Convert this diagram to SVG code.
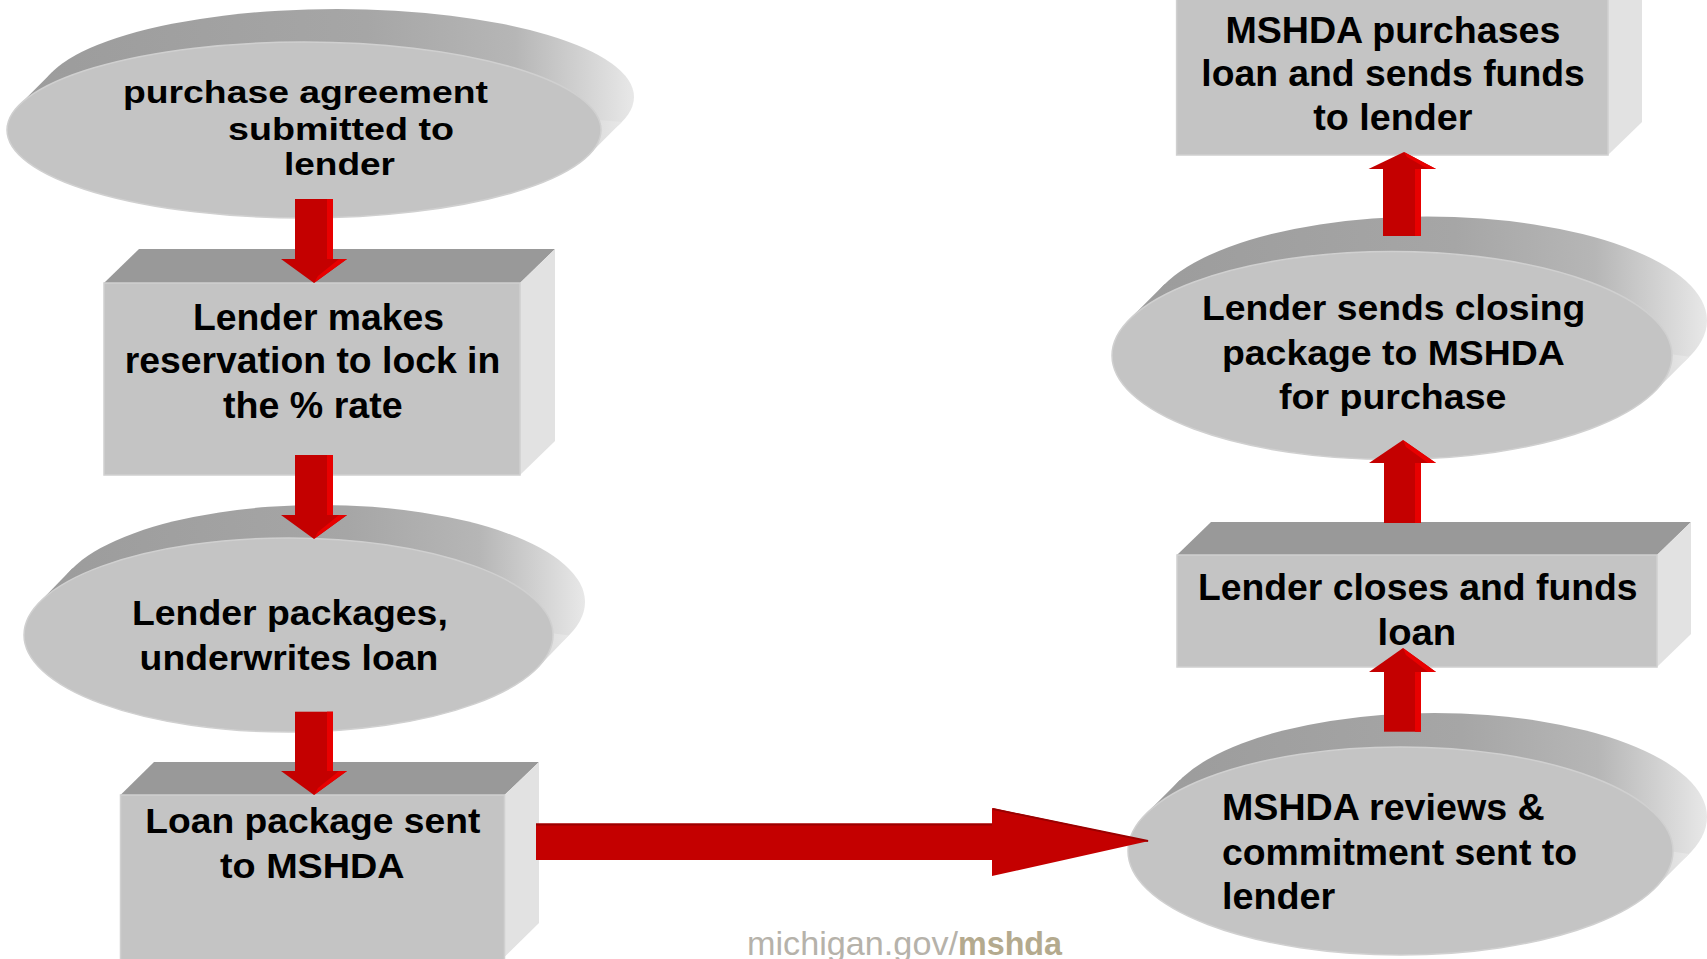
<svg xmlns="http://www.w3.org/2000/svg" width="1707" height="959" viewBox="0 0 1707 959">
<defs>
<linearGradient id="rim" x1="0" y1="0" x2="1" y2="0">
<stop offset="0" stop-color="#9c9c9c"/>
<stop offset="0.55" stop-color="#a6a6a6"/>
<stop offset="0.8" stop-color="#b6b6b6"/>
<stop offset="0.93" stop-color="#d6d6d6"/>
<stop offset="1" stop-color="#e8e8e8"/>
</linearGradient>
<style>
.front{fill:#c4c4c4;stroke:#d0d0d0;stroke-width:1.5}
.rim{fill:url(#rim)}
.top{fill:#999999}
.side{fill:#e2e2e2}
.t{font-family:"Liberation Sans",Arial,sans-serif;font-weight:bold;fill:#000}
.ar{fill:#c40000}
.hl{fill:#e80000}
.edge{fill:none;stroke:#9a0000;stroke-width:2}
</style>
</defs>
<rect width="1707" height="959" fill="#fff"/>

<g id="n1">
<ellipse class="rim" cx="337" cy="97" rx="297" ry="88"/>
<polygon class="rim" points="19.3,105 52.3,72 621.7,122 588.7,155"/>
<ellipse class="front" cx="304" cy="130" rx="297" ry="88"/>
<text class="t" font-size="32" lengthAdjust="spacingAndGlyphs" x="123" y="103" textLength="365">purchase agreement</text>
<text class="t" font-size="32" lengthAdjust="spacingAndGlyphs" x="228" y="140" textLength="226">submitted to</text>
<text class="t" font-size="32" lengthAdjust="spacingAndGlyphs" x="284" y="175" textLength="111">lender</text>
</g>

<g id="n2">
<polygon class="top" points="104,283 139,249 555,249 520,283"/>
<polygon class="side" points="520,283 555,249 555,441 520,475"/>
<rect class="front" x="104" y="283" width="416" height="192"/>
<text class="t" font-size="36" lengthAdjust="spacingAndGlyphs" x="193" y="330" textLength="251">Lender makes</text>
<text class="t" font-size="36" lengthAdjust="spacingAndGlyphs" x="124.7" y="373.3" textLength="375.6">reservation to lock in</text>
<text class="t" font-size="36" lengthAdjust="spacingAndGlyphs" x="223" y="418.3" textLength="179.7">the % rate</text>
</g>

<g id="n3">
<ellipse class="rim" cx="320.5" cy="602" rx="264.5" ry="97"/>
<polygon class="rim" points="40.2,601.6 72.2,568.6 568.8,635.4 536.8,668.4"/>
<ellipse class="front" cx="288.5" cy="635" rx="264.5" ry="97"/>
<text class="t" font-size="35" lengthAdjust="spacingAndGlyphs" x="132" y="625" textLength="315.8">Lender packages,</text>
<text class="t" font-size="35" lengthAdjust="spacingAndGlyphs" x="139.6" y="670" textLength="298.7">underwrites loan</text>
</g>

<g id="n4">
<polygon class="top" points="120.5,795 154,762 539,762 504.5,795"/>
<polygon class="side" points="504.5,795 539,762 539,923 504.5,957"/>
<rect class="front" x="120.5" y="795" width="384" height="166"/>
<text class="t" font-size="35" lengthAdjust="spacingAndGlyphs" x="145.3" y="833.3" textLength="335">Loan package sent</text>
<text class="t" font-size="35" lengthAdjust="spacingAndGlyphs" x="220" y="878.3" textLength="184.6">to MSHDA</text>
</g>

<g id="n5">
<ellipse class="rim" cx="1434.5" cy="817" rx="272.5" ry="104"/>
<polygon class="rim" points="1145.9,813.9 1179.9,779.9 1689.1,854.1 1655.1,888.1"/>
<ellipse class="front" cx="1400.5" cy="851" rx="272.5" ry="104"/>
<text class="t" font-size="36" lengthAdjust="spacingAndGlyphs" x="1222" y="820" textLength="322.7">MSHDA reviews &amp;</text>
<text class="t" font-size="36" lengthAdjust="spacingAndGlyphs" x="1222" y="865" textLength="355">commitment sent to</text>
<text class="t" font-size="36" lengthAdjust="spacingAndGlyphs" x="1222" y="909" textLength="113.3">lender</text>
</g>

<g id="n6">
<polygon class="top" points="1177,555 1211,522 1691,522 1657,555"/>
<polygon class="side" points="1657,555 1691,522 1691,634 1657,667"/>
<rect class="front" x="1177" y="555" width="480" height="112"/>
<text class="t" font-size="36" lengthAdjust="spacingAndGlyphs" x="1198" y="600" textLength="439.5">Lender closes and funds</text>
<text class="t" font-size="36" lengthAdjust="spacingAndGlyphs" x="1377.5" y="645" textLength="78.7">loan</text>
</g>

<g id="n7">
<ellipse class="rim" cx="1427" cy="320.5" rx="280" ry="104"/>
<polygon class="rim" points="1129.5,319.3 1164.5,284.3 1689.5,356.7 1654.5,391.7"/>
<ellipse class="front" cx="1392" cy="355.5" rx="280" ry="104"/>
<text class="t" font-size="35" lengthAdjust="spacingAndGlyphs" x="1202" y="320" textLength="383.4">Lender sends closing</text>
<text class="t" font-size="35" lengthAdjust="spacingAndGlyphs" x="1222" y="365" textLength="342.7">package to MSHDA</text>
<text class="t" font-size="35" lengthAdjust="spacingAndGlyphs" x="1279" y="409.3" textLength="227.4">for purchase</text>
</g>

<g id="n8">
<polygon class="side" points="1608,-40 1642,-40 1642,122 1608,155"/>
<rect class="front" x="1176.6" y="-40" width="431.4" height="195"/>
<text class="t" font-size="36" lengthAdjust="spacingAndGlyphs" x="1225.4" y="42.7" textLength="335">MSHDA purchases</text>
<text class="t" font-size="36" lengthAdjust="spacingAndGlyphs" x="1201.3" y="86" textLength="383.4">loan and sends funds</text>
<text class="t" font-size="36" lengthAdjust="spacingAndGlyphs" x="1313.2" y="130" textLength="159.2">to lender</text>
</g>

<g id="footer">
<text font-family="'Liberation Sans',Arial,sans-serif" font-size="34" fill="#b6b2aa" x="747" y="955" textLength="211" lengthAdjust="spacingAndGlyphs">michigan.gov/</text>
<text font-family="'Liberation Sans',Arial,sans-serif" font-size="34" font-weight="bold" fill="#b4aa8e" x="958" y="955" textLength="104" lengthAdjust="spacingAndGlyphs">mshda</text>
</g>

<g id="connectors">
<g>
<rect class="ar" x="295" y="199" width="38" height="62"/>
<rect class="hl" x="327" y="199" width="6" height="62"/>
<polygon class="ar" points="281,259 347,259 314,283"/>
<polygon class="hl" points="339,259 347,259 314,283 318,276"/>
</g>
<g>
<rect class="ar" x="295" y="455" width="38" height="62"/>
<rect class="hl" x="327" y="455" width="6" height="62"/>
<polygon class="ar" points="281,515 347,515 314,539"/>
<polygon class="hl" points="339,515 347,515 314,539 318,532"/>
</g>
<g>
<rect class="ar" x="295" y="711.7" width="38" height="61"/>
<rect class="hl" x="327" y="711.7" width="6" height="61"/>
<polygon class="ar" points="281,771 347,771 314,795"/>
<polygon class="hl" points="339,771 347,771 314,795 318,788"/>
</g>
<g>
<polygon class="ar" points="536,823.5 992,823.5 992,808 1149,841 992,876 992,860 536,860"/>
<polyline class="edge" points="536,824.5 992,824.5"/>
<polyline class="edge" points="993,809 1148,841"/>
</g>
<g>
<rect class="ar" x="1384" y="670" width="37" height="61.7"/>
<rect class="hl" x="1415" y="670" width="6" height="61.7"/>
<polygon class="ar" points="1369,672 1436,672 1403,648"/>
<polygon class="hl" points="1403,648 1436,672 1428,672 1406,655"/>
</g>
<g>
<rect class="ar" x="1384" y="461" width="37" height="62"/>
<rect class="hl" x="1415" y="461" width="6" height="62"/>
<polygon class="ar" points="1369,463 1436,463 1403,440"/>
<polygon class="hl" points="1403,440 1436,463 1428,463 1406,447"/>
</g>
<g>
<rect class="ar" x="1383" y="167" width="38" height="69"/>
<rect class="hl" x="1415" y="167" width="6" height="69"/>
<polygon class="ar" points="1368.5,169 1436,169 1404,152"/>
<polygon class="hl" points="1404,152 1436,169 1428,169 1407,157"/>
</g>
</g>
</svg>
